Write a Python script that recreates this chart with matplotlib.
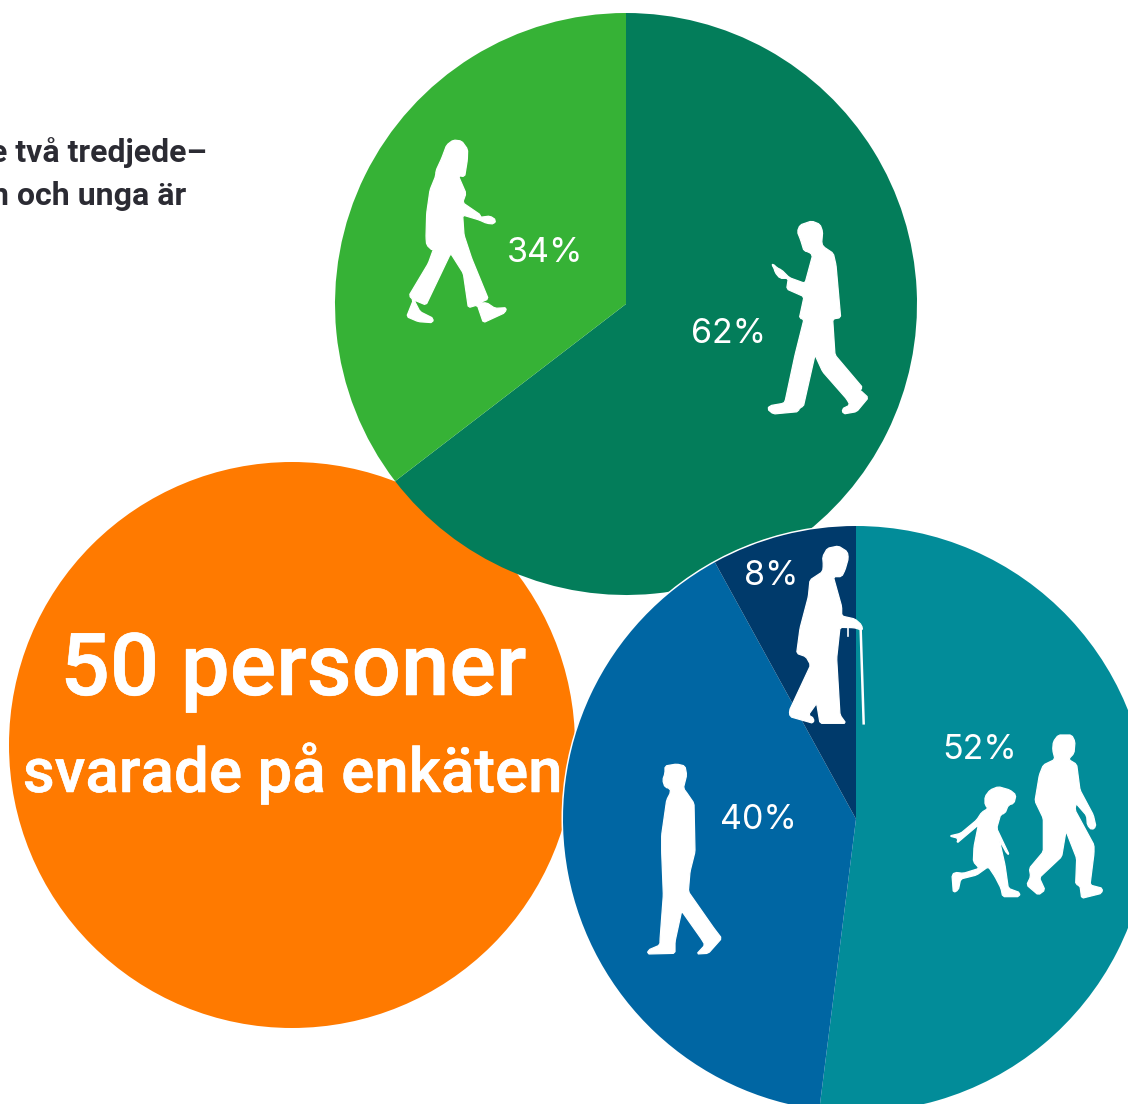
import math

import matplotlib
matplotlib.use("Agg")
import matplotlib.patheffects as pe
import matplotlib.pyplot as plt
from matplotlib.patches import Circle, Polygon

W, H = 1128, 1104

# share of respondents
top_values = [62, 34]
top_labels = ["62%", "34%"]
top_colors = ["#037D5A", "#36B236"]

bottom_values = [52, 40, 8]
bottom_labels = ["52%", "40%", "8%"]
bottom_colors = ["#028C99", "#0066A3", "#003A6B"]

title_big = "50 personer"
title_small = "svarade på enkäten"
intro_lines = ["e två tredjede–", "n och unga är"]

woman = [(190,30),(215,33),(233,58),(232,90),(224,140),(205,137),(228,190),(218,218),(272,255),(270,262),
         (300,258),(318,270),(312,282),(290,280),(268,270),(218,255),(222,315),(245,385),(295,507),(265,520),
         (290,518),(315,535),(350,533),(345,548),(280,578),(262,525),(235,533),(220,430),(182,370),(108,525),
         (72,510),(90,545),(130,565),(128,578),(85,575),(50,560),(70,510),(57,497),(115,400),(133,350),
         (128,362),(110,345),(108,322),(110,250),(120,180),(137,138),(138,122),(155,85),(170,45)]
man_phone = [(352,50),(360,30),(395,18),(420,28),(428,50),(425,85),(430,95),(460,115),(468,150),(482,308),
             (458,312),(465,420),(548,518),(518,545),(540,525),(565,548),(530,590),(490,597),(486,582),(510,570),
             (500,552),(428,470),(405,420),(370,575),(358,578),(355,590),(280,597),(262,582),(270,572),(310,565),
             (315,560),(345,420),(372,312),(358,310),(372,245),(320,222),(325,190),(300,190),(285,172),(282,158),
             (275,150),(280,147),(290,158),(305,165),(328,188),(375,205),(398,120),(385,110),(372,108),(362,75)]
old = [(248,50),(262,25),(295,18),(322,35),(325,55),(315,90),(305,110),(280,110),(305,200),(305,228),
       (345,237),(365,255),(368,272),(350,265),(340,263),(300,262),(290,355),(300,525),(318,550),(240,550),
       (230,490),(205,525),(222,535),(220,550),(150,530),(148,512),(205,390),(212,375),(198,350),(170,340),
       (180,265),(205,170),(210,120),(248,95),(250,75)]
man_walk = [(75,33),(110,27),(135,33),(140,60),(130,100),(138,110),(162,145),(165,290),(150,350),(145,410),
            (222,520),(245,550),(205,595),(170,597),(195,570),(185,553),(125,468),(105,560),(105,595),(22,597),
            (25,585),(60,570),(60,555),(70,420),(65,290),(65,240),(80,135),(92,112),(90,100),(75,97),(68,75),(75,55)]
adult = [(340,50),(355,30),(395,30),(405,50),(402,85),(385,103),(410,118),(420,195),(460,270),(468,305),
         (455,315),(442,300),(440,272),(408,235),(405,255),(462,360),(462,385),(450,480),(488,490),(485,505),
         (425,520),(420,482),(407,478),(410,400),(378,318),(365,395),(298,458),(315,495),(295,510),(260,480),
         (272,455),(268,430),(310,380),(310,280),(285,228),(298,150),(310,120),(345,103),(338,75)]
child = [(135,215),(150,195),(175,185),(210,195),(228,210),(222,235),(205,240),(195,265),(182,268),(170,310),
         (208,390),(200,385),(178,345),(195,420),(205,490),(240,503),(238,515),(188,515),(183,490),(165,455),
         (145,425),(110,450),(62,462),(55,495),(40,503),(36,450),(45,442),(70,445),(118,430),(100,410),
         (102,365),(115,300),(50,355),(55,340),(28,333),(62,325),(110,285),(125,262),(145,250),(135,240)]


def flip(y):
    return H - y


def soften(outline, d=5):
    # cut each corner by a fixed distance, so long edges stay straight
    pts = []
    for i, (x0, y0) in enumerate(outline):
        x1, y1 = outline[(i + 1) % len(outline)]
        length = math.hypot(x1 - x0, y1 - y0)
        t = min(d / length, 0.4)
        pts.append((x0 + (x1 - x0) * t, y0 + (y1 - y0) * t))
        pts.append((x1 - (x1 - x0) * t, y1 - (y1 - y0) * t))
    return pts


def draw_person(ax, outline, ox, oy):
    pts = [(ox + x / 3, flip(oy + y / 3)) for x, y in soften(outline)]
    ax.add_patch(Polygon(pts, closed=True, fc="white", ec="white", lw=0.9, joinstyle="round", zorder=5))


plt.rcParams["font.family"] = ["Roboto", "DejaVu Sans"]

fig = plt.figure(figsize=(W / 100, H / 100), dpi=100)
ax = fig.add_axes([0, 0, 1, 1])

ax.add_patch(Circle((292, flip(745)), 283, fc="#FF7A00", ec="none", zorder=1))

wedges, _ = ax.pie(top_values, colors=top_colors, startangle=90, counterclock=False,
                   center=(626, flip(304)), radius=291, frame=True)
for w in wedges:
    w.set_zorder(2)

ax.add_patch(Circle((856, flip(819)), 294.5, fc="white", ec="none", zorder=3))
wedges, _ = ax.pie(bottom_values, colors=bottom_colors, startangle=90, counterclock=False,
                   center=(856, flip(819)), radius=293, frame=True)
for w in wedges:
    w.set_zorder(4)

ax.set_xlim(0, W)
ax.set_ylim(0, H)
ax.axis("off")

draw_person(ax, woman, 390, 130)
draw_person(ax, man_phone, 680, 215)
draw_person(ax, old, 740, 540)
draw_person(ax, man_walk, 640, 755)
draw_person(ax, adult, 940, 725)
draw_person(ax, child, 940, 725)

# cane and the old persons key
ax.plot([740 + 362 / 3, 740 + 371 / 3], [flip(540 + 268 / 3), flip(540 + 550 / 3)], color="white", lw=1.8, zorder=5)
ax.plot([740 + 325 / 3, 740 + 325 / 3], [flip(540 + 262 / 3), flip(540 + 288 / 3)], color="white", lw=1.2, zorder=5)

pct = dict(color="white", fontsize=24.5, family=["Inter", "DejaVu Sans"], ha="center", va="baseline", zorder=6)
ax.text(729, flip(343), top_labels[0], **pct)
ax.text(545, flip(262), top_labels[1], **pct)
ax.text(980, flip(759), bottom_labels[0], **pct)
ax.text(758, flip(829), bottom_labels[1], **pct)
ax.text(771, flip(585), bottom_labels[2], **pct)

thicker = [pe.withStroke(linewidth=0.4, foreground="white")]
ax.text(293, flip(695), title_big, color="white", fontsize=62.5, fontweight="medium", ha="center", va="baseline",
        zorder=6, path_effects=thicker)
ax.text(292, flip(792), title_small, color="white", fontsize=44.5, fontweight="medium", ha="center", va="baseline",
        zorder=6, path_effects=thicker)

ax.text(207, flip(162), intro_lines[0], color="#2B2B33", fontsize=23, fontweight="semibold", ha="right", va="baseline")
ax.text(186, flip(205), intro_lines[1], color="#2B2B33", fontsize=23, fontweight="semibold", ha="right", va="baseline")

fig.savefig("out.png", dpi=100, facecolor="white")
